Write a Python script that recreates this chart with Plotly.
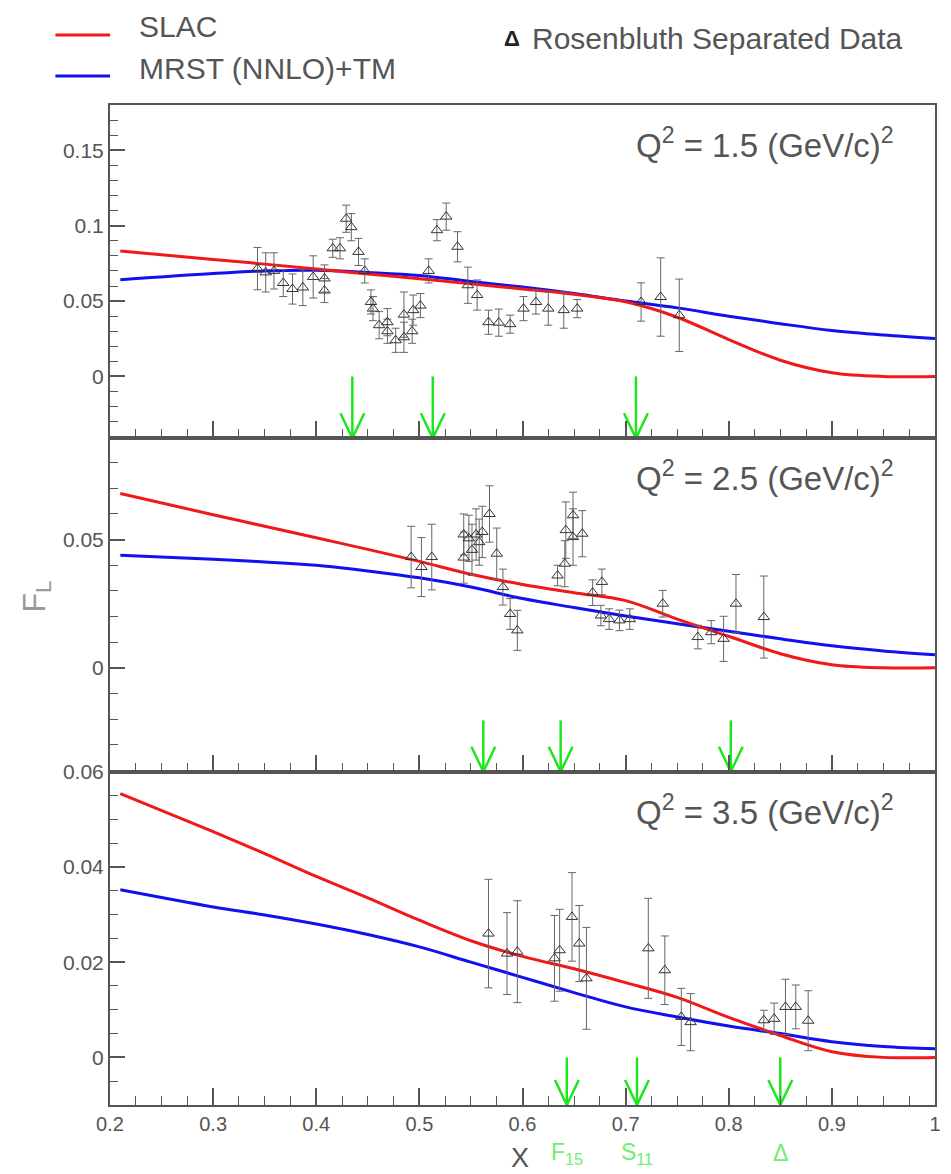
import plotly.graph_objects as go
from plotly.subplots import make_subplots

# ---------------- data ----------------
# Q^2 = 1.5
p1_x = [0.343, 0.351, 0.359, 0.368, 0.377, 0.387, 0.397, 0.408, 0.408, 0.416, 0.423, 0.429, 0.434,
        0.441, 0.447, 0.453, 0.455, 0.461, 0.469, 0.469, 0.477, 0.485, 0.485, 0.493, 0.494, 0.501,
        0.509, 0.517, 0.526, 0.537, 0.547, 0.556, 0.567, 0.577, 0.588, 0.601, 0.613, 0.625, 0.640,
        0.653, 0.715, 0.734, 0.752]
p1_y = [0.0715, 0.069, 0.070, 0.062, 0.058, 0.059, 0.066, 0.065, 0.057, 0.085, 0.085, 0.1046, 0.099,
        0.0826, 0.070, 0.0494, 0.045, 0.034, 0.036, 0.030, 0.024, 0.041, 0.026, 0.030, 0.044, 0.047,
        0.070, 0.097, 0.106, 0.086, 0.0605, 0.054, 0.036, 0.0357, 0.0347, 0.045, 0.0494, 0.045, 0.044,
        0.045, 0.0494, 0.0527, 0.0406]
p1_e = [0.014, 0.013, 0.012, 0.009, 0.010, 0.012, 0.014, 0.009, 0.008, 0.006, 0.007, 0.009, 0.009,
        0.009, 0.008, 0.008, 0.008, 0.009, 0.009, 0.008, 0.008, 0.015, 0.010, 0.008, 0.010, 0.008,
        0.008, 0.007, 0.009, 0.010, 0.012, 0.010, 0.008, 0.009, 0.006, 0.008, 0.008, 0.011, 0.012,
        0.006, 0.0127, 0.026, 0.024]

# Q^2 = 2.5
p2_x = [0.492, 0.502, 0.512, 0.543, 0.543, 0.548, 0.551, 0.555, 0.558, 0.561, 0.568, 0.575, 0.581,
        0.588, 0.595, 0.634, 0.641, 0.642, 0.649, 0.649, 0.658, 0.668, 0.677, 0.676, 0.684, 0.694,
        0.704, 0.736, 0.770, 0.783, 0.795, 0.807, 0.834]
p2_y = [0.0432, 0.0393, 0.0432, 0.052, 0.043, 0.0505, 0.046, 0.052, 0.049, 0.053, 0.060, 0.0445, 0.0315,
        0.021, 0.0146, 0.036, 0.0406, 0.0537, 0.0595, 0.051, 0.0523, 0.0293, 0.0335, 0.0204, 0.019, 0.0185,
        0.019, 0.025, 0.012, 0.0139, 0.0113, 0.025, 0.0198]
p2_e = [0.012, 0.0115, 0.0128, 0.008, 0.010, 0.009, 0.010, 0.010, 0.009, 0.010, 0.011, 0.010, 0.007,
        0.006, 0.0078, 0.004, 0.009, 0.011, 0.009, 0.011, 0.009, 0.005, 0.005, 0.004, 0.004, 0.004,
        0.004, 0.0052, 0.0046, 0.0045, 0.0088, 0.0114, 0.016]

# Q^2 = 3.5
p3_x = [0.567, 0.585, 0.595, 0.631, 0.636, 0.648, 0.655, 0.662, 0.722, 0.738, 0.754, 0.763, 0.834,
        0.844, 0.855, 0.865, 0.877]
p3_y = [0.026, 0.0218, 0.0222, 0.0208, 0.0225, 0.0295, 0.0239, 0.0166, 0.0229, 0.0183, 0.0085, 0.0074,
        0.0078, 0.0081, 0.0106, 0.0106, 0.0077]
p3_e = [0.0114, 0.0086, 0.0107, 0.009, 0.0086, 0.0093, 0.008, 0.0107, 0.0105, 0.0072, 0.006, 0.006,
        0.0021, 0.0033, 0.0058, 0.0046, 0.0063]

# model curves
curve_x = [0.21, 0.3, 0.35, 0.4, 0.45, 0.5, 0.55, 0.6, 0.65, 0.7, 0.75, 0.8, 0.85, 0.9, 0.95, 1.0]
slac1_y = [0.0832, 0.0776, 0.0745, 0.0712, 0.0680, 0.0648, 0.0614, 0.0580, 0.0545, 0.0495, 0.0393, 0.0245, 0.0108, 0.0025, 0.0, 0.0]
mrst1_y = [0.0642, 0.0683, 0.0700, 0.0704, 0.0690, 0.0670, 0.0630, 0.0593, 0.0550, 0.0500, 0.0455, 0.0400, 0.0350, 0.0305, 0.0275, 0.0252]
slac2_y = [0.0680, 0.0597, 0.0552, 0.0507, 0.0462, 0.0415, 0.0365, 0.0325, 0.0293, 0.0262, 0.0190, 0.0123, 0.0055, 0.0012, 0.0, 0.0]
mrst2_y = [0.0439, 0.0423, 0.0413, 0.0400, 0.0378, 0.0351, 0.0315, 0.0270, 0.0235, 0.0202, 0.0172, 0.0143, 0.0113, 0.0086, 0.0066, 0.0051]
slac3_y = [0.0554, 0.0474, 0.0428, 0.0380, 0.0335, 0.0288, 0.0245, 0.0212, 0.0186, 0.0157, 0.0126, 0.0084, 0.0046, 0.0012, 0.0, 0.0]
mrst3_y = [0.0352, 0.0316, 0.0299, 0.0280, 0.0258, 0.0232, 0.0200, 0.0168, 0.0136, 0.0106, 0.0085, 0.0066, 0.0050, 0.0033, 0.0023, 0.0018]

# resonance arrows (x positions) and their top values
arrows1 = [0.435, 0.513, 0.710]
arrows2 = [0.562, 0.637, 0.802]
arrows3 = [0.643, 0.711, 0.850]
arrow_tops = [0.0, -0.0205, 0.0]
res_labels = ["F<sub>15</sub>", "S<sub>11</sub>", "Δ"]

q2_labels = ["Q<sup>2</sup> = 1.5 (GeV/c)<sup>2</sup>",
             "Q<sup>2</sup> = 2.5 (GeV/c)<sup>2</sup>",
             "Q<sup>2</sup> = 3.5 (GeV/c)<sup>2</sup>"]

y_ranges = [[-0.041, 0.18], [-0.0405, 0.0895], [-0.01, 0.06]]
y_dticks = [0.05, 0.05, 0.02]
y_minor = [0.01, 0.01, 0.005]

# ---------------- figure ----------------
W, H = 951, 1174
ML, MR, MT, MB = 110, 10, 105, 69
PW, PH = W - ML - MR, H - MT - MB
PANEL_H = PH / 3.0

def pxx(px):
    return (px - ML) / PW

def pxy(py):
    return (H - MB - py) / PH

RED = "#f01818"
BLUE = "#1010f0"
GREEN = "#1ee61e"
GREEN_L = "#70ee70"
AX = "#555555"
TXT = "#555555"
FONT = "Liberation Sans"

fig = make_subplots(rows=3, cols=1, shared_xaxes=True, vertical_spacing=0)

panels = [
    (p1_x, p1_y, p1_e, slac1_y, mrst1_y, arrows1),
    (p2_x, p2_y, p2_e, slac2_y, mrst2_y, arrows2),
    (p3_x, p3_y, p3_e, slac3_y, mrst3_y, arrows3),
]

xr = [0.2, 1.0]
for i, (dx, dy, de, sy, my, arr) in enumerate(panels):
    row = i + 1
    fig.add_trace(go.Scatter(x=curve_x, y=my, mode="lines",
                             line=dict(color=BLUE, width=3, shape="spline", smoothing=1.0),
                             showlegend=False, hoverinfo="skip"), row=row, col=1)
    fig.add_trace(go.Scatter(x=curve_x, y=sy, mode="lines",
                             line=dict(color=RED, width=3, shape="spline", smoothing=1.0),
                             showlegend=False, hoverinfo="skip"), row=row, col=1)
    fig.add_trace(go.Scatter(x=dx, y=dy, mode="markers",
                             marker=dict(symbol="triangle-up-open", size=10, color="#333333",
                                         line=dict(width=1, color="#333333")),
                             error_y=dict(type="data", array=de, visible=True, color="#666666",
                                          thickness=1, width=4),
                             showlegend=False), row=row, col=1)
    # arrows
    yr = y_ranges[i]
    y_per_px = (yr[1] - yr[0]) / PANEL_H
    x_per_px = (xr[1] - xr[0]) / PW
    ax_, ay_ = [], []
    for a in arr:
        tip = yr[0]
        ax_ += [a, a, None, a - 12 * x_per_px, a, a + 12 * x_per_px, None]
        ay_ += [arrow_tops[i], tip, None, tip + 25 * y_per_px, tip, tip + 25 * y_per_px, None]
    fig.add_trace(go.Scatter(x=ax_, y=ay_, mode="lines", line=dict(color=GREEN, width=2.5),
                             showlegend=False, hoverinfo="skip", cliponaxis=False), row=row, col=1)

    fig.update_yaxes(range=yr, dtick=y_dticks[i], tick0=0, ticks="inside", ticklen=15, tickwidth=1.5,
                     tickcolor=AX, showline=True, linecolor=AX, linewidth=2, mirror=True,
                     showgrid=False, zeroline=False,
                     minor=dict(ticks="inside", ticklen=8, dtick=y_minor[i], tick0=0, tickcolor=AX,
                                tickwidth=1, showgrid=False),
                     tickfont=dict(family=FONT, size=21, color=TXT), row=row, col=1)
    fig.update_xaxes(range=xr, dtick=0.1, tick0=0.2, ticks="inside", ticklen=17, tickwidth=1.5,
                     tickcolor=AX, showline=True, linecolor=AX, linewidth=2, mirror=True,
                     showgrid=False, zeroline=False,
                     minor=dict(ticks="inside", ticklen=9, dtick=0.025, tick0=0.2, tickcolor=AX,
                                tickwidth=1, showgrid=False),
                     tickfont=dict(family=FONT, size=20, color=TXT), row=row, col=1)

    # Q^2 label
    top_py = MT + i * PANEL_H
    fig.add_annotation(text=q2_labels[i], xref="paper", yref="paper", x=pxx(902), y=pxy(top_py + 38),
                       xanchor="right", yanchor="middle", showarrow=False,
                       font=dict(family=FONT, size=33, color=TXT))

# resonance labels under bottom panel
for a, lab in zip(arrows3, res_labels):
    fig.add_annotation(text=lab, xref="x3", yref="paper", x=a, y=pxy(1153), xanchor="center",
                       yanchor="middle", showarrow=False, font=dict(family=FONT, size=23, color=GREEN_L))

# axis titles
fig.add_annotation(text="X", xref="paper", yref="paper", x=pxx(523), y=pxy(1158), showarrow=False,
                   xanchor="center", yanchor="middle", font=dict(family=FONT, size=27, color=TXT))
fig.add_annotation(text="F<sub>L</sub>", xref="paper", yref="paper", x=pxx(35), y=pxy(597), showarrow=False,
                   textangle=-90, xanchor="center", yanchor="middle",
                   font=dict(family=FONT, size=32, color="#9a9a9a"))

# legend (drawn manually)
fig.add_shape(type="line", xref="paper", yref="paper", x0=pxx(55), x1=pxx(110), y0=pxy(35), y1=pxy(35),
              line=dict(color=RED, width=3))
fig.add_shape(type="line", xref="paper", yref="paper", x0=pxx(55), x1=pxx(110), y0=pxy(76), y1=pxy(76),
              line=dict(color=BLUE, width=3))
fig.add_annotation(text="SLAC", xref="paper", yref="paper", x=pxx(137), y=pxy(27), xanchor="left",
                   yanchor="middle", showarrow=False, font=dict(family=FONT, size=30, color=TXT))
fig.add_annotation(text="MRST (NNLO)+TM", xref="paper", yref="paper", x=pxx(137), y=pxy(69), xanchor="left",
                   yanchor="middle", showarrow=False, font=dict(family=FONT, size=30, color=TXT))
fig.add_annotation(text="<b>Δ</b>", xref="paper", yref="paper", x=pxx(505), y=pxy(38), xanchor="left",
                   yanchor="middle", showarrow=False, font=dict(family=FONT, size=22, color="#222222"))
fig.add_annotation(text="Rosenbluth Separated Data", xref="paper", yref="paper", x=pxx(533), y=pxy(38),
                   xanchor="left", yanchor="middle", showarrow=False,
                   font=dict(family=FONT, size=30, color=TXT))

fig.update_layout(width=W, height=H, margin=dict(l=ML, r=MR, t=MT, b=MB),
                  plot_bgcolor="white", paper_bgcolor="white", showlegend=False,
                  font=dict(family=FONT, color=TXT))

fig.write_html("out.html", config={"displayModeBar": False},
               post_script="document.body.style.margin='0px';document.body.style.overflow='hidden';")
